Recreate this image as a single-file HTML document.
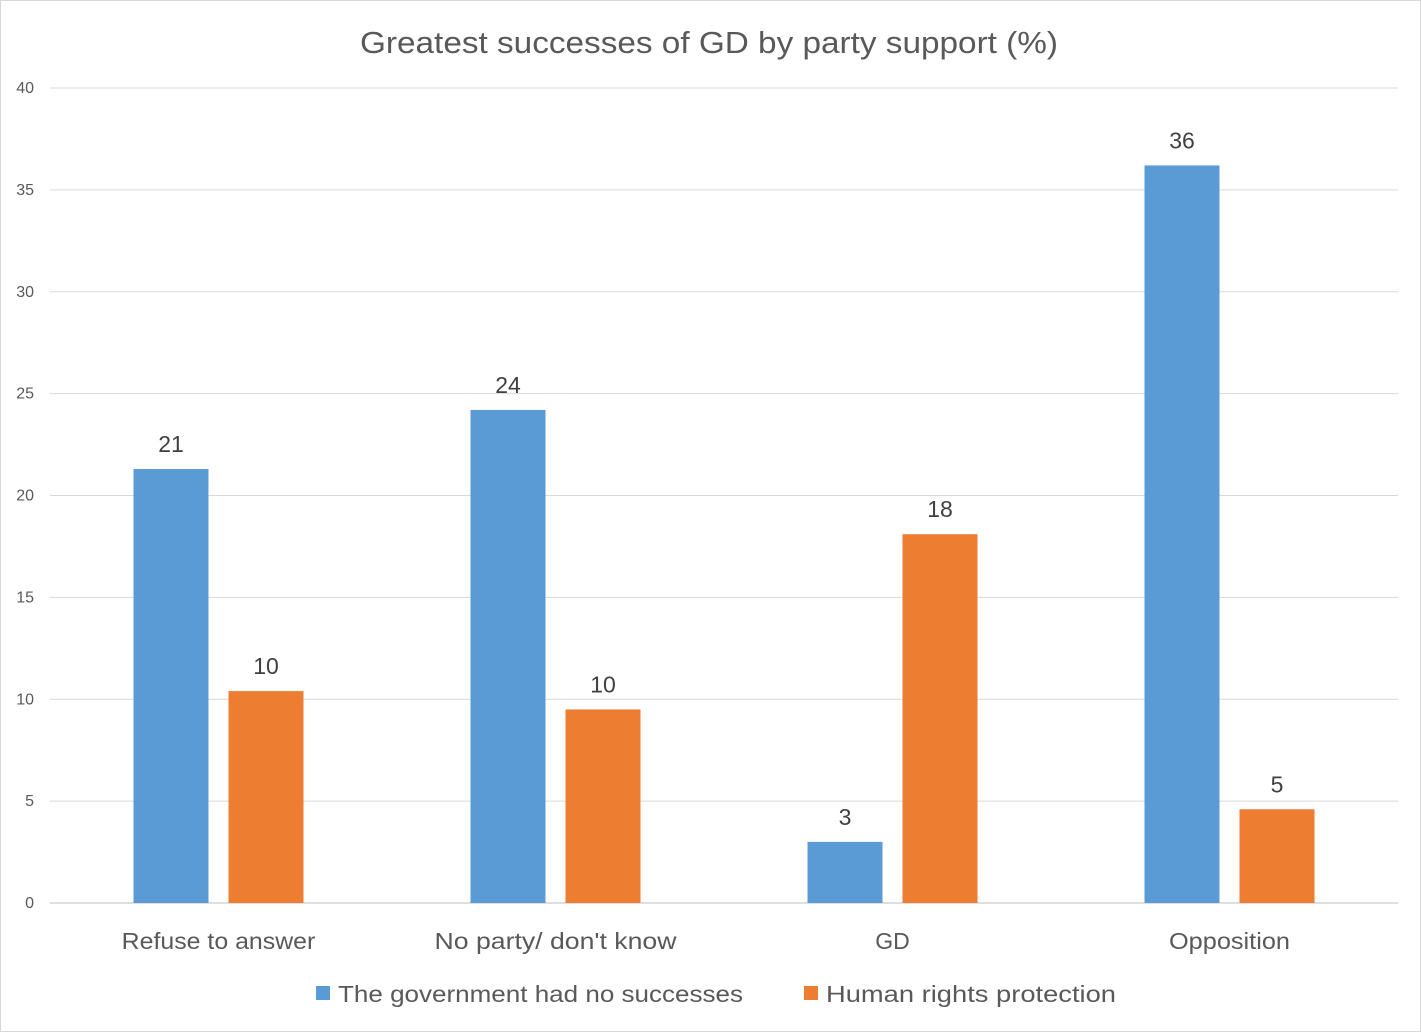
<!DOCTYPE html>
<html><head><meta charset="utf-8"><style>
html,body{margin:0;padding:0;background:#fff;}
svg{display:block;font-family:"Liberation Sans",sans-serif;}
</style></head><body>
<svg id="chart" width="1421" height="1032" viewBox="0 0 1421 1032">
<rect x="0.5" y="0.5" width="1420" height="1031" fill="#fff" stroke="#d9d9d9"/>
<text x="360" y="53" textLength="698" lengthAdjust="spacingAndGlyphs" font-size="31" fill="#595959">Greatest successes of GD by party support (%)</text>
<g id="grid"></g><g id="bars"></g><g id="labels"></g>
<g>
<rect x="316" y="986" width="14" height="14" fill="#5b9bd5"/>
<text x="338" y="1002" textLength="405" lengthAdjust="spacingAndGlyphs" font-size="23" fill="#595959">The government had no successes</text>
<rect x="804" y="986" width="14" height="14" fill="#ed7d31"/>
<text x="826" y="1002" textLength="290" lengthAdjust="spacingAndGlyphs" font-size="23" fill="#595959">Human rights protection</text>
</g>
</svg>
<script>
const categories=["Refuse to answer","No party/ don't know","GD","Opposition"];
const seriesNoSuccess=[21.3,24.2,3.0,36.2];
const seriesHumanRights=[10.4,9.5,18.1,4.6];
const yTicks=[0,5,10,15,20,25,30,35,40];
const NS="http://www.w3.org/2000/svg";
const x0=50,x1=1398,yBase=903,yTop=88,yMax=40;
const yScale=v=>yBase-(v/yMax)*(yBase-yTop);
const bandW=(x1-x0)/categories.length;
const xCenter=i=>x0+bandW*(i+0.5);
const barW=75,gap=20;
function mk(tag,attrs,parent){const e=document.createElementNS(NS,tag);for(const k in attrs)e.setAttribute(k,attrs[k]);parent.appendChild(e);return e;}
const grid=document.getElementById('grid'),bars=document.getElementById('bars'),labels=document.getElementById('labels');
yTicks.forEach(t=>{
  const y=yScale(t);
  const l=mk('line',{x1:x0,x2:x1,y1:y,y2:y,stroke:t===0?'#bfbfbf':'#d9d9d9','stroke-width':1},grid);
  
  
  const tx=mk('text',{x:34,y:y+5,'text-anchor':'end','font-size':16,fill:'#595959'},grid);
  tx.textContent=t;
  
  
});
categories.forEach((c,i)=>{
  const cx=xCenter(i);
  [[seriesNoSuccess,'#5b9bd5',cx-gap/2-barW,'no-successes'],[seriesHumanRights,'#ed7d31',cx+gap/2,'human-rights']].forEach(([s,col,bx,nm])=>{
    const v=s[i],y=yScale(v);
    const r=mk('rect',{x:bx,y:y,width:barW,height:yBase-y,fill:col},bars);
    
    
    const t=mk('text',{x:bx+barW/2,y:y-17,'text-anchor':'middle','font-size':23,fill:'#404040'},labels);
    t.textContent=Math.round(v);
    
    
  });
  const cl=mk('text',{x:cx,y:949,'text-anchor':'middle','font-size':23,fill:'#595959'},labels);
  cl.textContent=c;
  if(c.length>=4){
    cl.setAttribute('textLength',c.length*12.1);
    cl.setAttribute('lengthAdjust','spacingAndGlyphs');
  }
  
  
});
</script>
</body></html>
